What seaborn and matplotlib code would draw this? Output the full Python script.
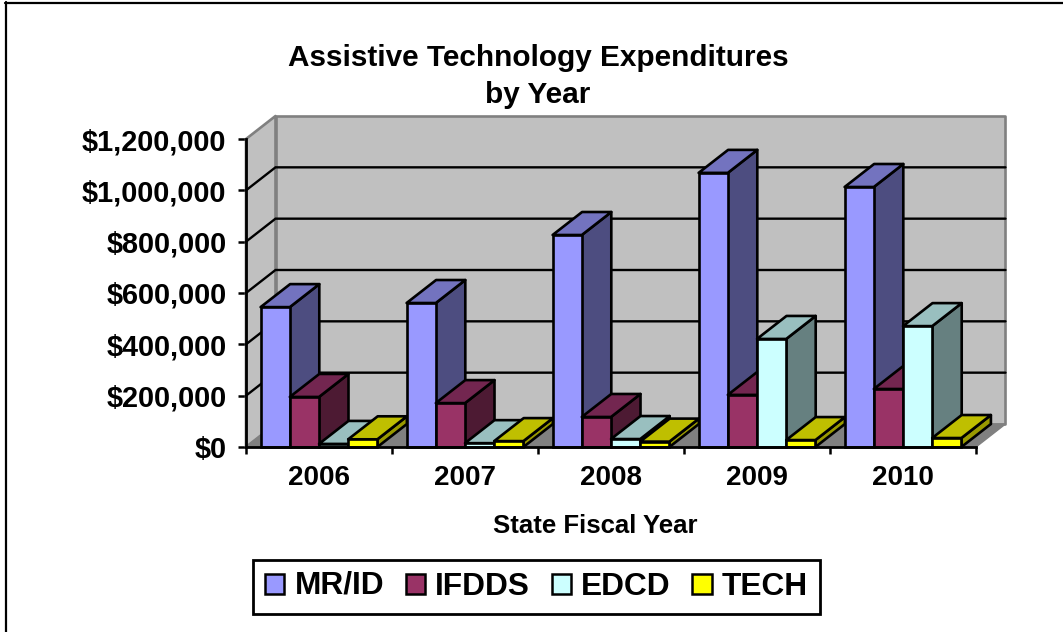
import pandas as pd
import matplotlib.pyplot as plt
import seaborn as sns
from matplotlib.lines import Line2D
from matplotlib.patches import Polygon
from matplotlib.ticker import FuncFormatter

# === Data ===
YEARS = ["2006", "2007", "2008", "2009", "2010"]
MR_ID = [545000, 561000, 826000, 1068000, 1013000]
IFDDS = [195000, 171000, 117000, 203000, 226000]
EDCD = [12000, 15000, 31000, 421000, 471000]
TECH = [30000, 23000, 21000, 27000, 35000]
PROGRAMS = ["MR/ID", "IFDDS", "EDCD", "TECH"]
COLORS = ["#9999FF", "#993366", "#CCFFFF", "#FFFF00"]
TOP_COLORS = ["#7373BF", "#732650", "#99BFBF", "#BFBF00"]
SIDE_COLORS = ["#4D4D80", "#4D1A33", "#668080", "#999900"]
YTICKS = [0, 200000, 400000, 600000, 800000, 1000000, 1200000]

# === Style Configuration ===
sns.set_theme(style="white")
plt.rcParams["font.family"] = ["Liberation Sans", "DejaVu Sans"]
plt.rcParams["font.weight"] = "bold"
plt.rcParams["text.color"] = "black"

W, H = 1063, 632
# Plot box of the front plane, in pixels
LEFT, RIGHT, TOP, BOTTOM = 246, 976, 139, 447
DEPTH_X = 29.5 / ((RIGHT - LEFT) / 5)
DEPTH_Y = 23 / ((BOTTOM - TOP) / 1200000)
EDGE = 1.9

df = pd.DataFrame({
    "year": YEARS * 4,
    "program": [p for p in PROGRAMS for _ in YEARS],
    "value": MR_ID + IFDDS + EDCD + TECH,
})

fig = plt.figure(figsize=(W / 100, H / 100), dpi=100, facecolor="white")
ax = fig.add_axes([LEFT / W, 1 - BOTTOM / H, (RIGHT - LEFT) / W, (BOTTOM - TOP) / H])
ax.patch.set_visible(False)

sns.barplot(data=df, x="year", y="value", hue="program", hue_order=PROGRAMS,
            palette=COLORS, saturation=1, width=0.8, gap=0, edgecolor="black",
            linewidth=EDGE, ax=ax, legend=False)
ax.set_xlim(-0.5, 4.5)
ax.set_ylim(0, 1200000)


def add_poly(points, color, zorder, edge="black", lw=EDGE):
    ax.add_patch(Polygon(points, closed=True, facecolor=color, edgecolor=edge,
                         linewidth=lw, zorder=zorder, clip_on=False,
                         joinstyle="round"))


# === Walls and floor ===
xa, xb = -0.5, 4.5
ymax = 1200000
add_poly([(xa, 0), (xa + DEPTH_X, DEPTH_Y), (xa + DEPTH_X, ymax + DEPTH_Y), (xa, ymax)],
         "#C0C0C0", 1, edge="#808080")
add_poly([(xa + DEPTH_X, DEPTH_Y), (xb + DEPTH_X, DEPTH_Y),
          (xb + DEPTH_X, ymax + DEPTH_Y), (xa + DEPTH_X, ymax + DEPTH_Y)],
         "#C0C0C0", 1, edge="#808080")
add_poly([(xa, 0), (xa + DEPTH_X, DEPTH_Y), (xb + DEPTH_X, DEPTH_Y), (xb, 0)],
         "#808080", 1.5, edge="#808080", lw=1)

for v in YTICKS[1:-1]:
    ax.plot([xa, xa + DEPTH_X, xb + DEPTH_X], [v, v + DEPTH_Y, v + DEPTH_Y],
            color="black", lw=1.7, zorder=2, clip_on=False, solid_joinstyle="miter")

# === Fake 3D depth, painted left to right so later bars cover earlier ones ===
bars = []
for i, container in enumerate(ax.containers):
    for patch in container:
        bars.append((patch.get_x(), i, patch))
bars.sort(key=lambda b: b[0])

for n, (x0, i, patch) in enumerate(bars):
    x1 = x0 + patch.get_width()
    h = patch.get_height()
    z = 10 + 2 * n
    add_poly([(x1, 0), (x1 + DEPTH_X, DEPTH_Y), (x1 + DEPTH_X, h + DEPTH_Y), (x1, h)],
             SIDE_COLORS[i], z)
    add_poly([(x0, h), (x1, h), (x1 + DEPTH_X, h + DEPTH_Y), (x0 + DEPTH_X, h + DEPTH_Y)],
             TOP_COLORS[i], z)
    patch.set_zorder(z + 1)
    patch.set_clip_on(False)

# === Axes ===
sns.despine(ax=ax, top=True, right=True)
for side in ["left", "bottom"]:
    ax.spines[side].set_linewidth(2)
    ax.spines[side].set_color("black")
    ax.spines[side].set_zorder(200)
ax.set_yticks(YTICKS)
ax.yaxis.set_major_formatter(FuncFormatter(lambda v, _: f"${v:,.0f}"))
ax.set_xticks([-0.5, 0.5, 1.5, 2.5, 3.5, 4.5], labels=[""] * 6)
ax.tick_params(axis="x", length=5, width=1.8, color="black", bottom=True)
ax.tick_params(axis="y", length=5.8, width=1.8, color="black", left=True,
               labelsize=20.8, pad=8.3, labelcolor="black")
ax.set_ylabel("")
ax.set_xlabel("")
for pos, year in enumerate(YEARS):
    ax.text(pos, -0.1, year, transform=ax.get_xaxis_transform(), ha="center", va="center",
            fontsize=20, fontweight="bold", color="black")

# === Title, axis label and legend ===
fig.text(538 / W, 1 - 58 / H, "Assistive Technology Expenditures", ha="center", va="center",
         fontsize=21.4, fontweight="bold", color="black")
fig.text(538 / W, 1 - 95 / H, "by Year", ha="center", va="center",
         fontsize=21.4, fontweight="bold", color="black")
fig.text(595 / W, 1 - 526 / H, "State Fiscal Year", ha="center", va="center",
         fontsize=18.5, fontweight="bold", color="black")

handles = [plt.Rectangle((0, 0), 1, 1, facecolor=c, edgecolor="black", linewidth=1.8) for c in COLORS]
leg = fig.legend(handles, PROGRAMS, ncol=4, loc="center", bbox_to_anchor=(536.5 / W, 1 - 587 / H),
                 fontsize=22.8, frameon=True, fancybox=False, edgecolor="black", framealpha=1,
                 labelcolor="black", handlelength=0.61, handleheight=0.61, handletextpad=0.32,
                 columnspacing=0.68, borderpad=0.37, borderaxespad=0)
leg.get_frame().set_linewidth(2)
# The slash drops below the other labels' baseline, lift that label back up
leg.get_texts()[0].set_y(1)

# Chart area border: only left and top edges show in the picture
fig.add_artist(Line2D([6 / W, 6 / W], [0, 1 - 2 / H], color="black", lw=1.6))
fig.add_artist(Line2D([5 / W, 1], [1 - 3 / H, 1 - 3 / H], color="black", lw=1.6))

fig.savefig("out.png", dpi=100)
plt.close(fig)
